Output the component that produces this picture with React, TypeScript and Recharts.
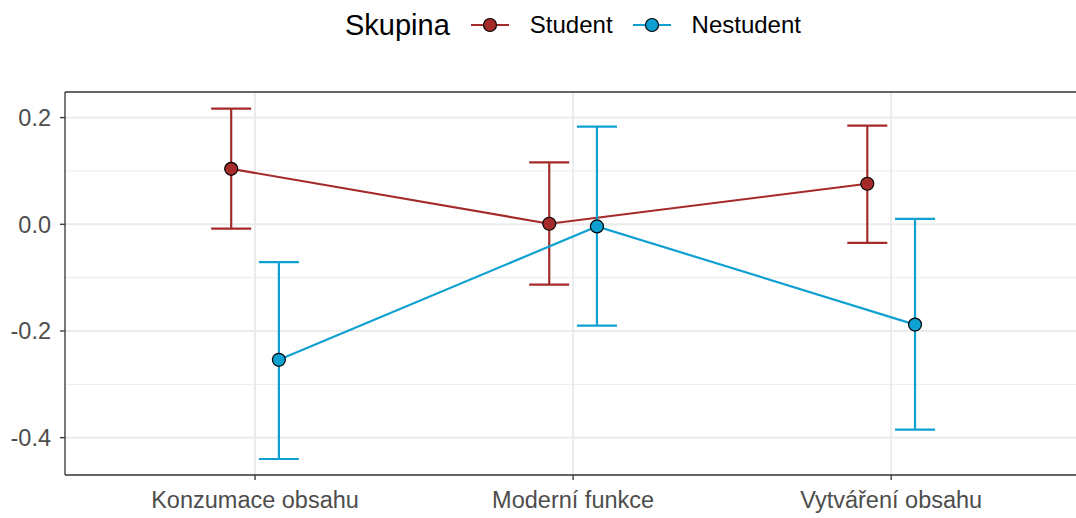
import { LineChart, Line, XAxis, YAxis, CartesianGrid, ErrorBar, Legend, ReferenceLine } from "recharts";
import React from "react";

const categories = ["Konzumace obsahu", "Moderní funkce", "Vytváření obsahu"];

const studentMean = [0.104, 0.001, 0.076];
const studentLow = [-0.008, -0.113, -0.035];
const studentHigh = [0.217, 0.116, 0.185];

const nestudentMean = [-0.254, -0.004, -0.188];
const nestudentLow = [-0.44, -0.19, -0.385];
const nestudentHigh = [-0.071, 0.183, 0.01];

const yTicks = [-0.4, -0.2, 0, 0.2];
const yMinor = [-0.3, -0.1, 0.1];

const FONT = '"Liberation Sans", Arial, sans-serif';
const RED = "#A52A2A";
const BLUE = "#0FA0D2";
const DODGE = 0.075;

const buildRows = (mean: number[], low: number[], high: number[], shift: number) =>
  mean.map((m, i) => ({
    x: i + 1 + shift,
    y: m,
    err: [m - low[i], high[i] - m],
  }));

const studentRows = buildRows(studentMean, studentLow, studentHigh, -DODGE);
const nestudentRows = buildRows(nestudentMean, nestudentLow, nestudentHigh, DODGE);

const series = [
  { name: "Student", color: RED },
  { name: "Nestudent", color: BLUE },
];

const LegendBox = () => (
  <div style={{ display: "flex", alignItems: "center", height: 50, paddingLeft: 345, fontFamily: FONT, color: "#000" }}>
    <span style={{ fontSize: 29, marginRight: 21 }}>Skupina</span>
    {series.map((s) => (
      <span key={s.name} style={{ display: "flex", alignItems: "center", marginRight: 20 }}>
        <svg width={38} height={20}>
          <line x1={0} x2={38} y1={10} y2={10} stroke={s.color} strokeWidth={2.2} />
          <circle cx={19} cy={10} r={6.5} fill={s.color} stroke="#000" strokeWidth={1.2} />
        </svg>
        <span style={{ fontSize: 24, marginLeft: 21 }}>{s.name}</span>
      </span>
    ))}
  </div>
);

export default function App() {
  const tickStyle = { fill: "#4D4D4D", fontSize: 23.5, fontFamily: FONT };
  return (
    <div style={{ position: "absolute", left: 0, top: 0, width: 1076, height: 518, overflow: "hidden", background: "#fff" }}>
      <LineChart width={1082} height={518} margin={{ top: 42, right: 0, bottom: 0, left: 0 }}>
        <Legend verticalAlign="top" content={() => <LegendBox />} wrapperStyle={{ top: 0, left: 0, width: 1076, height: 50 }} />
        <CartesianGrid horizontalValues={yMinor} vertical={false} stroke="#EBEBEB" strokeWidth={1} />
        <CartesianGrid horizontalValues={yTicks} verticalValues={[1, 2, 3]} stroke="#EBEBEB" strokeWidth={2} />
        <XAxis
          type="number"
          dataKey="x"
          domain={[0.4025, 3.6]}
          ticks={[1, 2, 3]}
          tickFormatter={(v: number) => categories[Math.round(v) - 1]}
          allowDataOverflow
          height={43}
          tick={tickStyle}
          tickSize={5}
          tickMargin={11}
          stroke="#333"
          axisLine={{ stroke: "#333", strokeWidth: 1.3 }}
          tickLine={{ stroke: "#333", strokeWidth: 1.3 }}
        />
        <YAxis
          type="number"
          domain={[-0.47, 0.248]}
          ticks={yTicks}
          tickFormatter={(v: number) => v.toFixed(1)}
          allowDataOverflow
          width={65}
          tick={tickStyle}
          tickSize={5}
          tickMargin={9}
          axisLine={{ stroke: "#333", strokeWidth: 1.3 }}
          tickLine={{ stroke: "#333", strokeWidth: 1.3 }}
        />
        <ReferenceLine y={0.248} stroke="#333" strokeWidth={1.3} ifOverflow="extendDomain" />
        <Line
          data={studentRows}
          dataKey="y"
          name="Student"
          stroke={RED}
          strokeWidth={2.2}
          dot={{ r: 6.5, fill: RED, stroke: "#000", strokeWidth: 1.2 }}
          activeDot={false}
          isAnimationActive={false}
        >
          <ErrorBar dataKey="err" direction="y" width={20} stroke={RED} strokeWidth={2.2} isAnimationActive={false} />
        </Line>
        <Line
          data={nestudentRows}
          dataKey="y"
          name="Nestudent"
          stroke={BLUE}
          strokeWidth={2.2}
          dot={{ r: 6.5, fill: BLUE, stroke: "#000", strokeWidth: 1.2 }}
          activeDot={false}
          isAnimationActive={false}
        >
          <ErrorBar dataKey="err" direction="y" width={20} stroke={BLUE} strokeWidth={2.2} isAnimationActive={false} />
        </Line>
      </LineChart>
    </div>
  );
}
